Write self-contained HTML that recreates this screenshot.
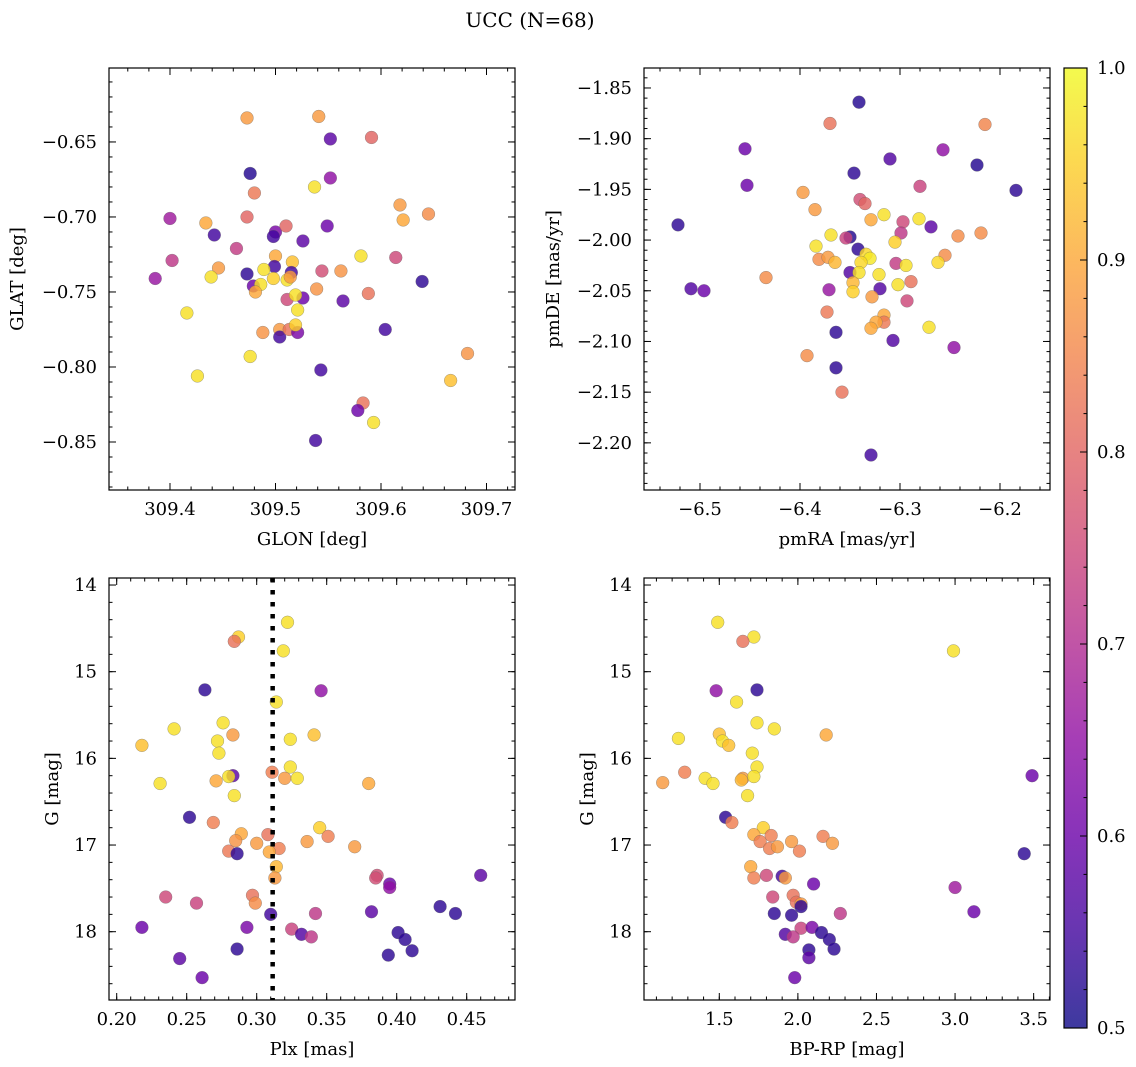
<!DOCTYPE html>
<html><head><meta charset="utf-8">
<style>
html,body{margin:0;padding:0;background:#fff;}
svg{display:block;font-family:"DejaVu Serif","Liberation Serif",serif;}
</style></head>
<body>
<svg id="fig" width="1136" height="1067" viewBox="0 0 1136 1067" xmlns="http://www.w3.org/2000/svg">
<text x="530" y="27" font-size="20" text-anchor="middle">UCC (N=68)</text>
</svg>
<script>
// ---- Panel 1: GLON vs GLAT ----
const glon = [309.473,309.541,309.552,309.591,309.476,309.552,309.537,309.480,309.618,309.621,309.645,309.400,309.434,309.473,309.442,309.500,309.498,309.510,309.549,309.526,309.463,309.402,309.386,309.581,309.614,309.500,309.516,309.499,309.489,309.446,309.439,309.473,309.515,309.544,309.562,309.498,309.511,309.514,309.639,309.479,309.486,309.481,309.539,309.588,309.511,309.526,309.519,309.564,309.521,309.416,309.488,309.504,309.504,309.513,309.521,309.519,309.604,309.476,309.682,309.426,309.543,309.666,309.583,309.578,309.593,309.538];
const glat = [-0.634,-0.633,-0.648,-0.647,-0.671,-0.674,-0.680,-0.684,-0.692,-0.702,-0.698,-0.701,-0.704,-0.700,-0.712,-0.710,-0.713,-0.706,-0.706,-0.716,-0.721,-0.729,-0.741,-0.726,-0.727,-0.726,-0.730,-0.733,-0.735,-0.734,-0.740,-0.738,-0.737,-0.736,-0.736,-0.741,-0.742,-0.740,-0.743,-0.746,-0.745,-0.750,-0.748,-0.751,-0.755,-0.754,-0.752,-0.756,-0.762,-0.764,-0.777,-0.775,-0.780,-0.775,-0.777,-0.772,-0.775,-0.793,-0.791,-0.806,-0.802,-0.809,-0.824,-0.829,-0.837,-0.849];
const prob1 = [0.88,0.88,0.58,0.80,0.52,0.65,0.97,0.83,0.88,0.90,0.86,0.67,0.90,0.80,0.55,0.62,0.55,0.80,0.60,0.58,0.73,0.72,0.66,0.97,0.75,0.90,0.93,0.55,0.97,0.88,0.97,0.53,0.55,0.76,0.87,0.95,0.97,0.88,0.53,0.60,0.97,0.90,0.87,0.82,0.75,0.60,0.97,0.58,0.97,0.97,0.87,0.88,0.55,0.82,0.62,0.95,0.55,0.97,0.87,0.97,0.55,0.93,0.82,0.60,0.97,0.55];
// ---- Panel 2: pmRA vs pmDE ----
const pmra = [-6.341,-6.370,-6.215,-6.455,-6.257,-6.310,-6.223,-6.346,-6.453,-6.280,-6.184,-6.397,-6.340,-6.335,-6.385,-6.316,-6.329,-6.281,-6.297,-6.522,-6.269,-6.299,-6.219,-6.242,-6.369,-6.350,-6.354,-6.305,-6.384,-6.342,-6.334,-6.330,-6.255,-6.381,-6.372,-6.365,-6.262,-6.304,-6.294,-6.339,-6.350,-6.341,-6.321,-6.347,-6.302,-6.289,-6.434,-6.509,-6.496,-6.371,-6.320,-6.347,-6.328,-6.293,-6.373,-6.316,-6.316,-6.324,-6.329,-6.271,-6.364,-6.307,-6.246,-6.393,-6.364,-6.358,-6.329];
const pmde = [-1.864,-1.885,-1.886,-1.910,-1.911,-1.920,-1.926,-1.934,-1.946,-1.947,-1.951,-1.953,-1.960,-1.964,-1.970,-1.975,-1.980,-1.979,-1.982,-1.985,-1.987,-1.993,-1.993,-1.996,-1.995,-1.997,-1.998,-2.002,-2.006,-2.009,-2.014,-2.018,-2.015,-2.019,-2.017,-2.022,-2.022,-2.023,-2.025,-2.022,-2.032,-2.032,-2.034,-2.042,-2.044,-2.041,-2.037,-2.048,-2.050,-2.049,-2.048,-2.051,-2.056,-2.060,-2.071,-2.074,-2.081,-2.081,-2.087,-2.086,-2.091,-2.099,-2.106,-2.114,-2.126,-2.150,-2.212];
const prob2 = [0.52,0.82,0.85,0.60,0.65,0.57,0.52,0.53,0.60,0.74,0.53,0.88,0.76,0.80,0.88,0.97,0.90,0.97,0.75,0.53,0.58,0.72,0.86,0.86,0.97,0.52,0.74,0.95,0.97,0.53,0.96,0.98,0.86,0.86,0.88,0.92,0.96,0.73,0.97,0.96,0.57,0.97,0.97,0.92,0.97,0.82,0.86,0.57,0.60,0.66,0.57,0.95,0.88,0.75,0.83,0.90,0.83,0.90,0.90,0.97,0.53,0.57,0.65,0.86,0.53,0.82,0.55];
// ---- Panel 3: Plx vs G ----
const plx = [0.322,0.287,0.284,0.319,0.263,0.346,0.314,0.276,0.241,0.283,0.324,0.341,0.218,0.272,0.273,0.311,0.324,0.320,0.329,0.283,0.280,0.271,0.231,0.380,0.284,0.252,0.269,0.345,0.289,0.351,0.308,0.285,0.300,0.336,0.370,0.316,0.280,0.286,0.309,0.314,0.313,0.386,0.385,0.395,0.395,0.460,0.235,0.297,0.299,0.257,0.431,0.442,0.382,0.342,0.310,0.218,0.293,0.325,0.332,0.339,0.401,0.406,0.411,0.394,0.286,0.245,0.261];
const gmag3 = [14.43,14.60,14.65,14.76,15.21,15.22,15.35,15.59,15.66,15.73,15.78,15.73,15.85,15.80,15.94,16.16,16.10,16.23,16.23,16.20,16.21,16.26,16.29,16.29,16.43,16.68,16.74,16.80,16.87,16.90,16.88,16.95,16.98,16.96,17.02,17.04,17.07,17.10,17.08,17.25,17.38,17.35,17.38,17.45,17.49,17.35,17.60,17.58,17.67,17.67,17.71,17.79,17.77,17.79,17.80,17.95,17.95,17.97,18.03,18.06,18.01,18.09,18.22,18.27,18.20,18.31,18.53];
const prob3 = [0.97,0.95,0.82,0.97,0.53,0.65,0.97,0.97,0.97,0.88,0.97,0.93,0.93,0.97,0.97,0.84,0.97,0.88,0.97,0.58,0.97,0.90,0.97,0.90,0.97,0.53,0.84,0.95,0.90,0.84,0.82,0.87,0.88,0.88,0.88,0.84,0.83,0.53,0.90,0.92,0.88,0.76,0.76,0.60,0.65,0.58,0.75,0.82,0.86,0.74,0.53,0.53,0.58,0.72,0.55,0.60,0.62,0.74,0.57,0.72,0.53,0.53,0.53,0.53,0.53,0.58,0.60];
const plxRef = [0.3114];
// ---- Panel 4: BP-RP vs G ----
const bprp = [1.49,1.72,1.65,2.99,1.48,1.74,1.61,1.74,1.85,2.18,1.24,1.50,1.52,1.56,1.71,1.74,1.28,1.41,1.46,1.14,1.65,1.64,1.72,3.49,1.68,1.54,1.58,1.78,1.72,1.83,1.76,1.82,1.87,1.96,2.01,2.16,2.22,3.44,1.70,1.72,1.80,1.90,1.92,2.10,3.00,1.84,1.97,1.99,2.02,2.02,3.12,2.27,1.85,1.96,2.02,2.09,1.92,1.97,2.15,2.20,2.23,2.07,2.07,1.98];
const gmag4 = [14.43,14.60,14.65,14.76,15.22,15.21,15.35,15.59,15.66,15.73,15.77,15.72,15.80,15.85,15.94,16.10,16.16,16.23,16.29,16.28,16.23,16.25,16.21,16.20,16.43,16.68,16.74,16.80,16.88,16.89,16.96,17.04,17.02,16.96,17.07,16.90,16.98,17.10,17.25,17.38,17.35,17.36,17.38,17.45,17.49,17.60,17.58,17.66,17.68,17.71,17.77,17.79,17.79,17.81,17.96,17.95,18.03,18.06,18.01,18.09,18.20,18.21,18.30,18.53];
const prob4 = [0.97,0.97,0.82,0.97,0.65,0.53,0.97,0.97,0.97,0.90,0.97,0.93,0.97,0.93,0.97,0.97,0.84,0.97,0.97,0.88,0.88,0.92,0.97,0.60,0.97,0.53,0.84,0.95,0.90,0.84,0.84,0.84,0.88,0.88,0.84,0.84,0.88,0.53,0.90,0.84,0.75,0.55,0.88,0.60,0.67,0.75,0.82,0.82,0.88,0.53,0.60,0.72,0.53,0.53,0.74,0.62,0.57,0.72,0.53,0.53,0.53,0.53,0.58,0.60];
// ---- colorbar ----
const cbTicks = [0.5,0.6,0.7,0.8,0.9,1.0];
const cbTickLabels = ["0.5","0.6","0.7","0.8","0.9","1.0"];

const NS = "http://www.w3.org/2000/svg";
const svg = document.getElementById('fig');
function mk(tag, attrs, parent){
  const e = document.createElementNS(NS, tag);
  for (const k in attrs) e.setAttribute(k, attrs[k]);
  (parent||svg).appendChild(e);
  return e;
}
const plasma = [[13,8,135],[65,4,157],[106,0,168],[143,13,164],[177,42,144],[204,71,120],[225,100,98],[242,132,75],[252,166,54],[252,206,37],[240,249,33]];
function cmap(v){
  let t = (v-0.5)/0.5; t = Math.max(0,Math.min(1,t));
  const p = t*10, i = Math.min(9,Math.floor(p)), f = p-i;
  const a = plasma[i], b = plasma[i+1];
  return 'rgb(' + [0,1,2].map(k=>Math.round(a[k]+(b[k]-a[k])*f)).join(',') + ')';
}
function fmt(v,d){ const s = Math.abs(v).toFixed(d); return (v<-1e-9?'\u2212':'') + s; }

function panel(cfg){
  const {name,px0,px1,py0,py1,xd,yd,xmaj,xmin,ymaj,ymin,xdec,ydec,xlabel,ylabel,xs,ys,cs,ylabX,negY} = cfg;
  const sx = v => px0 + (v-xd[0])/(xd[1]-xd[0])*(px1-px0);
  const sy = v => py1 - (v-yd[0])/(yd[1]-yd[0])*(py1-py0);
  const g = mk('g',{});
  
  
  const tg = mk('g',{stroke:'#000','stroke-width':1},g);
  function ticksX(step,len,labels){
    const s0 = Math.ceil(xd[0]/step-1e-6);
    for(let k=s0; k*step<=xd[1]+1e-9; k++){
      const v = k*step, x = sx(v);
      mk('line',{x1:x,x2:x,y1:py1,y2:py1-len},tg);
      mk('line',{x1:x,x2:x,y1:py0,y2:py0+len},tg);
      if(labels){
        const t = mk('text',{x:x,y:py1+25,'font-size':18,'text-anchor':'middle',stroke:'none',fill:'#000'},g);
        t.textContent = fmt(v,xdec);
        
        
      }
    }
  }
  function ticksY(step,len,labels){
    const s0 = Math.ceil(yd[0]/step-1e-6);
    for(let k=s0; k*step<=yd[1]+1e-9; k++){
      const v = k*step, y = sy(v);
      mk('line',{x1:px0,x2:px0+len,y1:y,y2:y},tg);
      mk('line',{x1:px1,x2:px1-len,y1:y,y2:y},tg);
      if(labels){
        const t = mk('text',{x:px0-12,y:y+6,'font-size':18,'text-anchor':'end',stroke:'none',fill:'#000'},g);
        t.textContent = fmt(negY ? -v : v,ydec);
        
        
      }
    }
  }
  ticksX(xmin,3.5,false); ticksX(xmaj,7,true);
  ticksY(ymin,3.5,false); ticksY(ymaj,7,true);
  const pg = mk('g',{},g);
  
  
  for(let i=0;i<xs.length;i++){
    const c = mk('circle',{cx:sx(xs[i]),cy:sy(ys[i]),r:6.4,fill:cmap(cs[i]),'fill-opacity':0.82,stroke:'#666','stroke-opacity':0.6,'stroke-width':0.5},pg);
    
    
  }
  if(cfg.vline!==undefined){
    const l = mk('line',{x1:sx(cfg.vline),x2:sx(cfg.vline),y1:py0,y2:py1,stroke:'#000','stroke-width':4.5,'stroke-dasharray':'4.5 7.5'},g);
    
    
  }
  const fr = mk('rect',{x:px0,y:py0,width:px1-px0,height:py1-py0,fill:'none',stroke:'#000','stroke-width':1.2},g);
  
  
  const xl = mk('text',{x:(px0+px1)/2,y:py1+55,'font-size':18,'text-anchor':'middle'},g);
  xl.textContent = xlabel;
  
  
  const cy = (py0+py1)/2;
  const yl = mk('text',{x:ylabX,y:cy,'font-size':18,'text-anchor':'middle',transform:'rotate(-90 '+ylabX+' '+cy+')'},g);
  yl.textContent = ylabel;
  
  
}

panel({name:'glon-glat-panel',px0:109,px1:515,py0:68,py1:490,xd:[309.3422,309.727],yd:[-0.882,-0.6007],
  xmaj:0.1,xmin:0.02,ymaj:0.05,ymin:0.01,xdec:1,ydec:2,xlabel:'GLON [deg]',ylabel:'GLAT [deg]',
  xs:glon,ys:glat,cs:prob1,ylabX:23});
panel({name:'pm-panel',px0:644,px1:1050,py0:68,py1:490,xd:[-6.556,-6.15],yd:[-2.2465,-1.8303],
  xmaj:0.1,xmin:0.02,ymaj:0.05,ymin:0.01,xdec:1,ydec:2,xlabel:'pmRA [mas/yr]',ylabel:'pmDE [mas/yr]',
  xs:pmra,ys:pmde,cs:prob2,ylabX:559});
panel({name:'plx-g-panel',px0:109,px1:515,py0:578,py1:1000,xd:[0.1945,0.4845],yd:[-18.788,-13.919],
  xmaj:0.05,xmin:0.01,ymaj:1,ymin:0.2,xdec:2,ydec:0,xlabel:'Plx [mas]',ylabel:'G [mag]',
  xs:plx,ys:gmag3.map(v=>-v),cs:prob3,ylabX:58,vline:plxRef[0],negY:true});
panel({name:'cmd-panel',px0:644,px1:1050,py0:578,py1:1000,xd:[1.021,3.604],yd:[-18.788,-13.919],
  xmaj:0.5,xmin:0.1,ymaj:1,ymin:0.2,xdec:1,ydec:0,xlabel:'BP-RP [mag]',ylabel:'G [mag]',
  xs:bprp,ys:gmag4.map(v=>-v),cs:prob4,ylabX:593,negY:true});

(function(){
  const x0=1064,x1=1087,y0=68,y1=1028;
  const defs = mk('defs',{});
  const lg = mk('linearGradient',{id:'cbg',x1:0,y1:1,x2:0,y2:0},defs);
  for(let i=0;i<=10;i++){ mk('stop',{offset:(i*10)+'%','stop-color':cmap(0.5+i*0.05),'stop-opacity':0.8},lg); }
  const r = mk('rect',{x:x0,y:y0,width:x1-x0,height:y1-y0,fill:'url(#cbg)',stroke:'#000','stroke-width':1.2});
  
  
  const sy = v => y1 - (v-0.5)/0.5*(y1-y0);
  for(let k=25;k<=50;k++){ const y=sy(k*0.02); mk('line',{x1:x1,x2:x1-3.5,y1:y,y2:y,stroke:'#000'}); }
  for(let i=0;i<cbTicks.length;i++){
    const y=sy(cbTicks[i]);
    mk('line',{x1:x1,x2:x1-7,y1:y,y2:y,stroke:'#000'});
    const t = mk('text',{x:x1+10,y:y+6,'font-size':18});
    t.textContent = cbTickLabels[i];
    
    
  }
})();
</script>
</body></html>
